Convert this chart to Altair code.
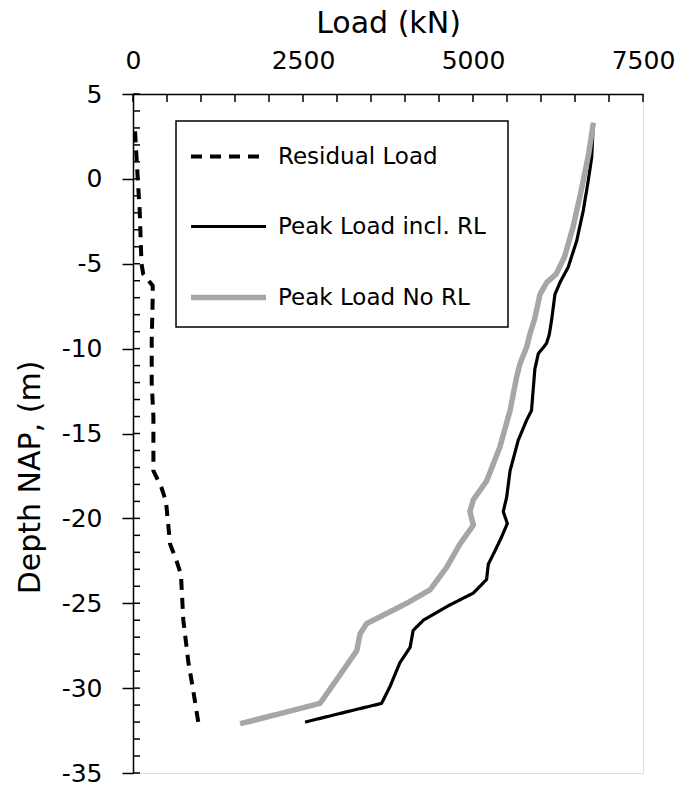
import altair as alt
import pandas as pd

# ---- data ----
series_names = ["Residual Load", "Peak Load incl. RL", "Peak Load No RL"]

res_depth = [2.8, 0, -2, -5, -5.6, -6.3, -7, -9.5, -12, -14, -17.2, -18.2, -19,
             -21.5, -22.5, -23.3, -26, -28.5, -30, -32]
res_load = [30, 70, 100, 125, 150, 290, 290, 275, 275, 300, 300, 420, 485,
            545, 640, 705, 740, 815, 880, 960]

incl_depth = [3.3, 1.25, -0.1, -1.9, -3.65, -5.2, -6.1, -6.8, -8.35, -9.2, -9.7,
              -10.3, -11.2, -13.65, -14.2, -15.4, -17.2, -18.75, -19.6, -20.3,
              -21.1, -21.9, -22.7, -23.6, -24.4, -25.1, -26, -26.6, -27.6, -28.5,
              -29.9, -30.9, -31.3, -32.0]
incl_load = [6770, 6745, 6695, 6620, 6525, 6400, 6280, 6205, 6155, 6120, 6080,
             5960, 5910, 5860, 5790, 5665, 5545, 5495, 5445, 5505,
             5420, 5325, 5225, 5200, 5005, 4660, 4270, 4120, 4075, 3925,
             3780, 3655, 3240, 2530]

norl_depth = [3.3, 1.45, -0.9, -2.86, -4.6, -5.6, -6.1, -6.8, -8.2, -9.1, -9.9,
              -10.9, -11.7, -13.65, -15.8, -17.8, -18.9, -19.6, -20.4, -21.5,
              -22.9, -23.6, -24.2, -25.0, -26.2, -26.8, -27.8, -29.5, -30.9, -32.1]
norl_load = [6770, 6700, 6580, 6470, 6345, 6225, 6085, 5985, 5910, 5840, 5790,
             5690, 5640, 5545, 5395, 5200, 5005, 4955, 5005, 4810,
             4610, 4480, 4370, 4025, 3435, 3340, 3290, 2995, 2750, 1575]

x_label_values = [0, 2500, 5000, 7500]
x_minor_ticks = list(range(0, 7501, 500))
y_label_values = [5, 0, -5, -10, -15, -20, -25, -30, -35]
y_minor_ticks = list(range(-35, 6, 1))

# ---- table ----
rows = []
for name, deps, loads in zip(series_names,
                             [res_depth, incl_depth, norl_depth],
                             [res_load, incl_load, norl_load]):
    for i, (d, l) in enumerate(zip(deps, loads)):
        rows.append({"series": name, "depth": d, "load": l, "idx": i})
df = pd.DataFrame(rows)

FONT = "DejaVu Sans"

x_scale = alt.Scale(domain=[0, 7500], nice=False, zero=False)
y_scale = alt.Scale(domain=[-35, 5], nice=False, zero=False)

legend = alt.Legend(
    orient="none", legendX=55, legendY=23, title=None, direction="vertical",
    symbolType="stroke", symbolSize=5625, labelFontSize=23, labelFont=FONT,
    labelColor="black", labelOffset=9, padding=0, rowPadding=18,
    labelLimit=400,
)

color_enc = alt.Color("series:N", sort=series_names,
                      scale=alt.Scale(domain=series_names,
                                      range=["black", "black", "#A6A6A6"]),
                      legend=legend)
dash_enc = alt.StrokeDash("series:N", sort=series_names,
                          scale=alt.Scale(domain=series_names,
                                          range=[[11, 8], [1, 0], [1, 0]]),
                          legend=legend)
width_enc = alt.StrokeWidth("series:N", sort=series_names,
                            scale=alt.Scale(type="ordinal", domain=series_names,
                                            range=[4, 3.2, 5.5]),
                            legend=legend)

x_enc = alt.X("load:Q", scale=x_scale, title="Load (kN)",
              axis=alt.Axis(orient="top", values=x_label_values, grid=False,
                            ticks=False, tickSize=0, labelPadding=26,
                            labelBaseline="alphabetic", labelFontSize=25,
                            labelFont=FONT, labelColor="black",
                            labelExpr="datum.value + ''",
                            titleFontSize=30, titleFont=FONT, titleColor="black",
                            titleFontWeight="normal", titleBaseline="alphabetic",
                            titleY=-62, domainColor="black", domainWidth=1.5,
                            labelFlush=False))
y_enc = alt.Y("depth:Q", scale=y_scale, title="Depth NAP, (m)",
              axis=alt.Axis(orient="left", values=y_label_values, grid=False,
                            tickSize=11, tickColor="black", tickWidth=1.5,
                            labelPadding=20, labelFontSize=25, labelFont=FONT,
                            labelColor="black", labelExpr="datum.value + ''",
                            titleFontSize=30, titleFont=FONT,
                            titleColor="black", titleFontWeight="normal",
                            titleBaseline="alphabetic", titleX=-94, titleY=383,
                            titleAngle=-90, titleAlign="center",
                            domainColor="black", domainWidth=1.5,
                            labelFlush=False))

def series_layer(name):
    return alt.Chart(df).transform_filter(
        alt.datum.series == name
    ).mark_line(strokeCap="butt", strokeJoin="round").encode(
        x=x_enc, y=y_enc, color=color_enc, strokeDash=dash_enc,
        strokeWidth=width_enc, order="idx:Q"
    )

legend_box = alt.Chart(pd.DataFrame({"b": [0]})).mark_rect(
    fill="white", stroke="black", strokeWidth=1.5
).encode(x=alt.value(43), x2=alt.value(375), y=alt.value(27), y2=alt.value(233))

top_ticks = alt.Chart(pd.DataFrame({"t": x_minor_ticks})).mark_rule(
    color="black", strokeWidth=1.5
).encode(x=alt.X("t:Q", scale=x_scale), y=alt.value(0), y2=alt.value(8))

left_ticks = alt.Chart(pd.DataFrame({"t": y_minor_ticks})).mark_rule(
    color="black", strokeWidth=1.5
).encode(y=alt.Y("t:Q", scale=y_scale), x=alt.value(0), x2=alt.value(7))

chart = alt.layer(
    legend_box,
    series_layer("Peak Load incl. RL"),
    series_layer("Peak Load No RL"),
    series_layer("Residual Load"),
    top_ticks, left_ticks,
).properties(
    width=510, height=679,
    autosize=alt.AutoSizeParams(type="none"),
    padding={"left": 133, "top": 94, "right": 42, "bottom": 15},
).configure_view(
    stroke="black", strokeWidth=1.5
).configure(background="white")

chart.save("out.html", embed_options={"renderer": "svg", "actions": False})
